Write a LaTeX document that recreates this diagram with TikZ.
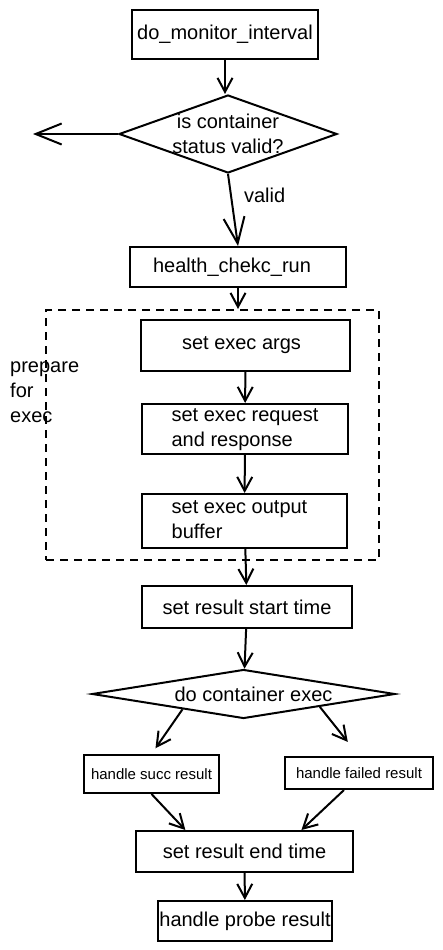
\documentclass[tikz,border=0pt]{standalone}
\usepackage{fontspec}
\setmainfont{Liberation Sans}
\usetikzlibrary{positioning,calc}
\usetikzlibrary{arrows.meta}
\usetikzlibrary{shapes.geometric}
\tikzset{
        flownode/.style={align=center,inner sep=0pt,font=\fontsize{20}{25}\selectfont},
        % Process steps
        node_step/.style={flownode, rectangle, draw=black, line width=2pt},
        % Decisions (text is set as a centre label)
        node_decision/.style={flownode, diamond, draw=black, line width=2pt},
        decision_text/.style={flownode, align=center},
        % Result handlers
        node_small/.style={node_step, font=\fontsize{15}{18}\selectfont},
        % Group frame and its note
        node_group/.style={rectangle, draw=black, line width=2pt, dash pattern=on 8pt off 6pt},
        node_note/.style={flownode, align=left},
        % Arrows
        flowarrow/.style={-{Straight Barb[length=14pt,width=15pt]}, line width=2pt},
        bigarrow/.style={-{Straight Barb[length=26pt,width=21pt]}, line width=2pt}
}
\begin{document}
\begin{tikzpicture}[x=1pt,y=-1pt]
            \useasboundingbox (0,0) rectangle (443,950);
            \node[node_step, minimum width=186pt, minimum height=49pt] (mon) at (225,34.5) {do\_monitor\_interval};
            \node[node_decision, minimum width=218pt, minimum height=78pt,
                label={[decision_text]center:is container\\status valid?}] (chk) at (228,134) {};
            \coordinate (exit) at (33,134);
            \node[node_step, minimum width=216pt, minimum height=40pt] (health) at (238,267) {health\_chekc\_run\hspace*{12pt}};
            % prepare for exec
            \node[node_group, minimum width=333pt, minimum height=250pt] (grp) at (212.5,435) {};
            \node[node_note, anchor=north west] (prep) at (10,362) {prepare\\for\\exec};
            \node[node_step, minimum width=209pt, minimum height=51pt] (args) at (245.5,345.5) {set exec args\hspace*{8pt}};
            \node[node_step, minimum width=206pt, minimum height=44pt] (req) at (245,429) {\begin{tabular}{@{}l@{}}set exec request\\and response\end{tabular}};
            \node[node_step, minimum width=205pt, minimum height=54pt] (buf) at (244.5,521) {\begin{tabular}{@{}l@{}}set exec output\\buffer\end{tabular}\hspace*{10pt}};
            \node[node_step, minimum width=210pt, minimum height=42pt] (start) at (247,607) {set result start time};
            \node[node_decision, minimum width=303pt, minimum height=49pt,
                label={[decision_text, xshift=10pt]center:do container exec}] (exec) at (243.5,694) {};
            \node[node_small, minimum width=135pt, minimum height=38pt] (succ) at (151.5,774) {handle succ result};
            \node[node_small, minimum width=148pt, minimum height=32pt] (fail) at (359,773) {handle failed result};
            \node[node_step, minimum width=217pt, minimum height=41pt] (end) at (244.5,851.5) {set result end time};
            \node[node_step, minimum width=174pt, minimum height=40pt] (probe) at (245,921) {handle probe result};

            \draw[flowarrow] (mon.south) -- (mon.south |- chk.north);
            \draw[bigarrow] (chk.west) -- (exit);
            \draw[bigarrow] (chk.south) -- node[flownode, pos=0.3, anchor=west, xshift=12pt] (lbl_valid) {valid} (health.north);
            \draw[flowarrow] (health.south) -- (health.south |- grp.north);
            \draw[flowarrow] (args) -- (req);
            \draw[flowarrow] (req) -- (buf);
            \draw[flowarrow] (buf) -- (start);
            \draw[flowarrow] (start) -- (exec);
            \draw[flowarrow, shorten >=7pt] ($(exec.west)!0.6!(exec.south)$) -- (succ.north);
            \draw[flowarrow, shorten >=18pt] (exec.south east) -- (fail.north);
            \draw[flowarrow] (succ.south) -- ($(end.north west)!0.23!(end.north east)$);
            \draw[flowarrow] ($(fail.south west)!0.4!(fail.south east)$) -- ($(end.north west)!0.76!(end.north east)$);
            \draw[flowarrow] (end) -- (probe);
\end{tikzpicture}
\end{document}
